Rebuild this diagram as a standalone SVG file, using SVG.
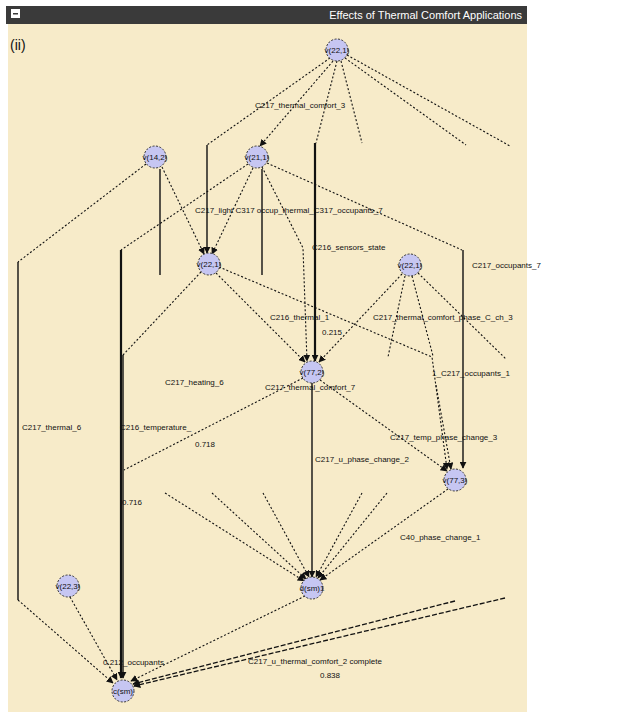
<svg xmlns="http://www.w3.org/2000/svg" width="620" height="718" viewBox="0 0 620 718">
<defs>
<marker id="ah" viewBox="0 0 10 10" refX="9" refY="5" markerWidth="7" markerHeight="7" orient="auto-start-reverse" markerUnits="userSpaceOnUse">
<path d="M0,0 L10,5 L0,10 z" fill="#111"/>
</marker>
<style>
.bg{fill:#f7ebc9}
.dot{fill:none;stroke:#111;stroke-width:1.1;stroke-dasharray:2,2}
.sol{fill:none;stroke:#111;stroke-width:1.4}
.thk{fill:none;stroke:#111;stroke-width:2.2}
.dash{fill:none;stroke:#111;stroke-width:1.3;stroke-dasharray:5,2}
.nd{fill:#c6c6f2;stroke:#333;stroke-width:1;stroke-dasharray:2,1.5}
.nt{font-family:"Liberation Sans",Arial,sans-serif;font-size:8px;fill:#111;text-anchor:middle}
.lb{font-family:"Liberation Sans",Arial,sans-serif;font-size:8px;fill:#111}
</style>
</defs>
<rect x="0" y="0" width="620" height="718" fill="#ffffff"/>
<rect class="bg" x="8" y="24" width="519" height="688"/>
<rect x="6" y="6" width="521" height="18" fill="#3a3a3a"/>
<rect x="11" y="9" width="9" height="9" fill="#ffffff"/>
<rect x="13" y="13" width="5" height="1.5" fill="#3a3a3a"/>
<text x="522" y="19" font-family="Liberation Sans,Arial,sans-serif" font-size="11" fill="#ffffff" text-anchor="end">Effects of Thermal Comfort Applications</text>
<text x="10" y="50" font-family="Liberation Sans,Arial,sans-serif" font-size="14" fill="#111">(ii)</text>

<g id="connectors">
<polyline class="dot" points="330,58 207,145"/>
<polyline class="sol" points="207,145 207,253" marker-end="url(#ah)"/>
<polyline class="dot" points="333,61 260,146" marker-end="url(#ah)"/>
<polyline class="dot" points="337,61 316,143"/>
<polyline class="thk" points="315,143 315,361" marker-end="url(#ah)"/>
<polyline class="dot" points="341,61 362,143"/>
<polyline class="dot" points="345,58 466,145"/>
<polyline class="dot" points="347,55 510,146"/>
<polyline class="dot" points="146,164 18,262"/>
<polyline class="sol" points="18,262 18,600"/>
<polyline class="dot" points="18,600 113,683" marker-end="url(#ah)"/>
<polyline class="dot" points="162,167 204,254" marker-end="url(#ah)"/>
<polyline class="sol" points="160,169 160,275"/>
<polyline class="dot" points="248,164 121,250"/>
<polyline class="thk" points="121,250 121,678" marker-end="url(#ah)"/>
<polyline class="dot" points="253,168 212,254" marker-end="url(#ah)"/>
<polyline class="sol" points="262,169 262,275"/>
<polyline class="dot" points="262,167 303,248 307,361" marker-end="url(#ah)"/>
<polyline class="dot" points="267,163 462,250"/>
<polyline class="sol" points="463,250 463,468" marker-end="url(#ah)"/>
<polyline class="dot" points="201,272 123,355"/>
<polyline class="sol" points="123,355 123,678" marker-end="url(#ah)"/>
<polyline class="dot" points="216,273 305,362" marker-end="url(#ah)"/>
<polyline class="dot" points="219,267 432,357 447,469" marker-end="url(#ah)"/>
<polyline class="dot" points="402,274 319,362" marker-end="url(#ah)"/>
<polyline class="dot" points="405,276 388,357"/>
<polyline class="dot" points="412,276 433,356"/>
<polyline class="dot" points="418,273 506,359"/>
<polyline class="dot" points="436,385 451,469" marker-end="url(#ah)"/>
<polyline class="sol" points="312,383 312,577" marker-end="url(#ah)"/>
<polyline class="dot" points="303,378 124,470"/>
<polyline class="dot" points="320,380 447,471" marker-end="url(#ah)"/>
<polyline class="dot" points="448,489 320,580" marker-end="url(#ah)"/>
<polyline class="dot" points="165,493 304,581" marker-end="url(#ah)"/>
<polyline class="dot" points="212,493 306,579" marker-end="url(#ah)"/>
<polyline class="dot" points="263,493 309,577" marker-end="url(#ah)"/>
<polyline class="dot" points="362,493 316,577" marker-end="url(#ah)"/>
<polyline class="dot" points="387,493 318,578" marker-end="url(#ah)"/>
<polyline class="dot" points="70,597 117,680" marker-end="url(#ah)"/>
<polyline class="dot" points="305,596 131,681" marker-end="url(#ah)"/>
<polyline class="dash" points="455,601 133,684" marker-end="url(#ah)"/>
<polyline class="dash" points="505,598 134,686" marker-end="url(#ah)"/>
</g>

<g id="labels">
<text class="lb" x="255" y="108">C217_thermal_comfort_3</text>
<text class="lb" x="195" y="213">C217_light C317 occup_thermal_C317_occupants_7</text>
<text class="lb" x="312" y="250">C216_sensors_state</text>
<text class="lb" x="472" y="268">C217_occupants_7</text>
<text class="lb" x="270" y="320">C216_thermal_1</text>
<text class="lb" x="373" y="320">C217_thermal_comfort_phase_C_ch_3</text>
<text class="lb" x="322" y="335">0.215</text>
<text class="lb" x="432" y="376">1_C217_occupants_1</text>
<text class="lb" x="165" y="385">C217_heating_6</text>
<text class="lb" x="265" y="390">C217_thermal_comfort_7</text>
<text class="lb" x="22" y="430">C217_thermal_6</text>
<text class="lb" x="120" y="430">C216_temperature_</text>
<text class="lb" x="195" y="447">0.718</text>
<text class="lb" x="390" y="440">C217_temp_phase_change_3</text>
<text class="lb" x="315" y="462">C217_u_phase_change_2</text>
<text class="lb" x="122" y="505">0.716</text>
<text class="lb" x="400" y="540">C40_phase_change_1</text>
<text class="lb" x="103" y="665">0.212_occupants</text>
<text class="lb" x="248" y="664">C217_u_thermal_comfort_2 complete</text>
<text class="lb" x="320" y="678">0.838</text>
</g>

<g id="nA"><circle class="nd" cx="337" cy="50" r="11"/><text class="nt" x="337" y="53">v(22,1)</text></g>
<g id="nB"><circle class="nd" cx="155" cy="157" r="11"/><text class="nt" x="155" y="160">v(14,2)</text></g>
<g id="nC"><circle class="nd" cx="257" cy="157" r="11"/><text class="nt" x="257" y="160">v(21,1)</text></g>
<g id="nD"><circle class="nd" cx="209" cy="264" r="11"/><text class="nt" x="209" y="267">v(22,1)</text></g>
<g id="nE"><circle class="nd" cx="410" cy="265" r="11"/><text class="nt" x="410" y="268">v(22,1)</text></g>
<g id="nF"><circle class="nd" cx="312" cy="372" r="11"/><text class="nt" x="312" y="375">v(77,2)</text></g>
<g id="nG"><circle class="nd" cx="455" cy="480" r="11"/><text class="nt" x="455" y="483">v(77,3)</text></g>
<g id="nH"><circle class="nd" cx="312" cy="588" r="11"/><text class="nt" x="312" y="591">d(sm)1</text></g>
<g id="nI"><circle class="nd" cx="68" cy="586" r="11"/><text class="nt" x="68" y="589">v(22,3)</text></g>
<g id="nJ"><circle class="nd" cx="123" cy="691" r="11"/><text class="nt" x="123" y="694">c(sm)</text></g>
</svg>
